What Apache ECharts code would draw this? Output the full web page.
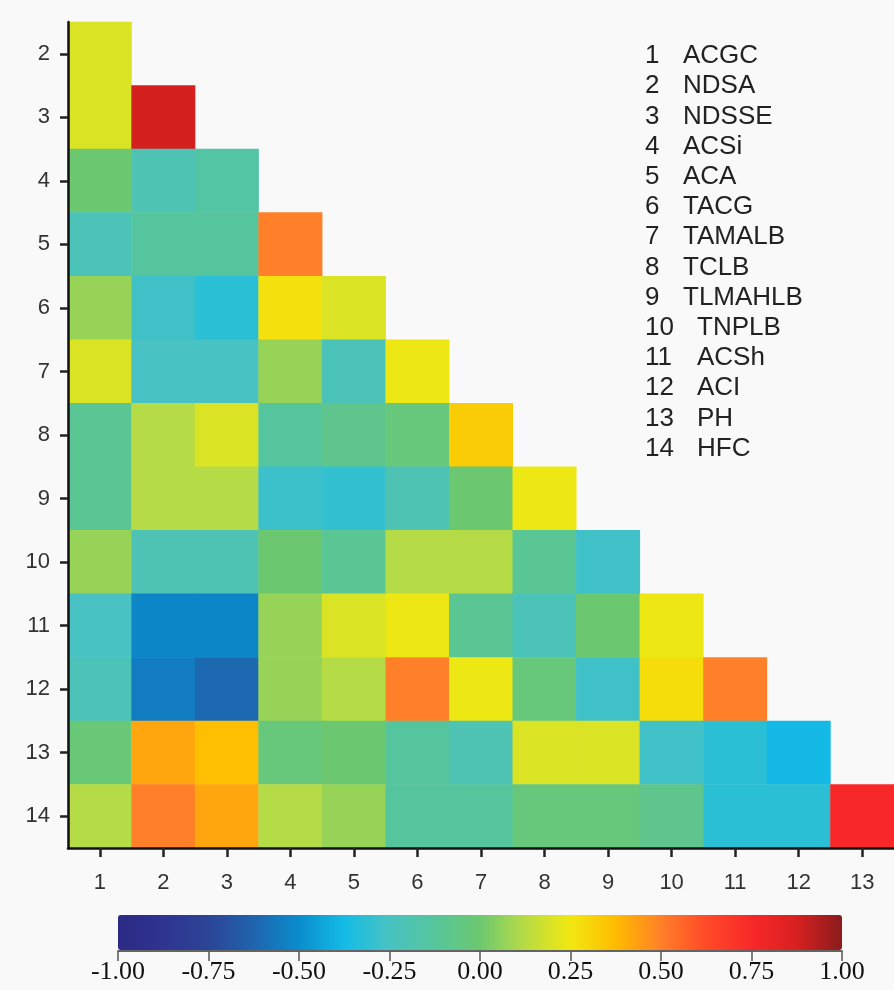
<!DOCTYPE html>
<html>
<head>
<meta charset="utf-8">
<script src="https://cdn.jsdelivr.net/npm/echarts@6/dist/echarts.min.js"></script>
<style>
  html, body { margin: 0; padding: 0; background: #f9f9f9; }
  #chart { width: 894px; height: 990px; }
</style>
</head>
<body>
<div id="chart"></div>
<script>
// columns 1..13, rows 2..14 (lower triangle of the correlation matrix)
var colLabels = ['1','2','3','4','5','6','7','8','9','10','11','12','13'];
var rowLabels = ['2','3','4','5','6','7','8','9','10','11','12','13','14'];

// one array per row, values for columns 1..(row-1)
var row2  = [0.20];
var row3  = [0.20, 0.88];
var row4  = [0.00, -0.20, -0.15];
var row5  = [-0.22, -0.13, -0.13, 0.50];
var row6  = [0.07, -0.27, -0.32, 0.27, 0.20];
var row7  = [0.20, -0.25, -0.25, 0.07, -0.22, 0.24];
var row8  = [-0.10, 0.12, 0.20, -0.13, -0.08, -0.03, 0.33];
var row9  = [-0.10, 0.12, 0.12, -0.28, -0.30, -0.20, 0.00, 0.24];
var row10 = [0.07, -0.20, -0.20, 0.00, -0.10, 0.12, 0.12, -0.10, -0.27];
var row11 = [-0.25, -0.52, -0.52, 0.07, 0.20, 0.24, -0.10, -0.22, 0.00, 0.24];
var row12 = [-0.22, -0.55, -0.61, 0.07, 0.12, 0.50, 0.24, -0.03, -0.27, 0.28, 0.50];
var row13 = [-0.02, 0.42, 0.37, -0.03, 0.00, -0.13, -0.20, 0.20, 0.20, -0.27, -0.32, -0.38];
var row14 = [0.12, 0.50, 0.42, 0.12, 0.07, -0.13, -0.13, -0.03, -0.03, -0.08, -0.32, -0.32, 0.75];
var rows = [row2, row3, row4, row5, row6, row7, row8, row9, row10, row11, row12, row13, row14];

var varNames = ['ACGC','NDSA','NDSSE','ACSi','ACA','TACG','TAMALB','TCLB','TLMAHLB','TNPLB','ACSh','ACI','PH','HFC'];

var palette = ['#2c2a84','#2e3490','#2c4596','#1f64ae','#0a8ccc','#14bce6','#48c2c2','#56c59c',
               '#6cc870','#b8dc44','#f2e810','#ffbc00','#ff8028','#ff4a28','#f82828','#d82020','#8a1c1c'];

var cells = [];
rows.forEach(function (r, ri) {
  r.forEach(function (v, ci) {
    cells.push([ci, ri, v]);
  });
});

// variable list in the upper right
var listTexts = [];
varNames.forEach(function (n, i) {
  var y = 56 + i * 30.2;
  listTexts.push({
    type: 'text', left: 645, top: y - 13,
    style: { text: String(i + 1), font: '26px "Liberation Sans", Arial, sans-serif', fill: '#222' }
  });
  listTexts.push({
    type: 'text', left: i < 9 ? 683 : 697, top: y - 13,
    style: { text: n, font: '26px "Liberation Sans", Arial, sans-serif', fill: '#222' }
  });
});

var myChart = echarts.init(document.getElementById('chart'));
var option = {
  backgroundColor: '#f9f9f9',
  animation: false,
  grid: [
    { left: 68, top: 22, width: 826, height: 826 },
    { left: 118, top: 950, width: 724, height: 1 }
  ],
  xAxis: [
    {
      type: 'category', data: colLabels, gridIndex: 0, z: 10,
      axisLine: { show: true, lineStyle: { color: '#111', width: 2.5 } },
      axisTick: { show: true, alignWithLabel: true, length: 9, lineStyle: { color: '#222', width: 2.5 } },
      axisLabel: { show: true, color: '#333', fontSize: 22, margin: 24, fontFamily: 'Liberation Sans' },
      splitLine: { show: false }
    },
    {
      type: 'value', gridIndex: 1, min: -1, max: 1, interval: 0.25,
      axisLine: { show: true, lineStyle: { color: '#333', width: 1.5 } },
      axisTick: { show: true, length: 10, lineStyle: { color: '#555', width: 1.5 } },
      axisLabel: {
        color: '#111', fontSize: 26, margin: 8, fontFamily: 'Liberation Serif',
        formatter: function (v) { return v.toFixed(2); }
      },
      splitLine: { show: false }
    }
  ],
  yAxis: [
    {
      type: 'category', data: rowLabels, inverse: true, gridIndex: 0, z: 10,
      axisLine: { show: true, lineStyle: { color: '#111', width: 2.5 } },
      axisTick: { show: true, alignWithLabel: true, length: 8, lineStyle: { color: '#222', width: 2.5 } },
      axisLabel: { show: true, color: '#333', fontSize: 22, margin: 18, fontFamily: 'Liberation Sans' },
      splitLine: { show: false }
    },
    { type: 'value', gridIndex: 1, show: false }
  ],
  visualMap: {
    type: 'continuous', min: -1, max: 1, seriesIndex: 0,
    orient: 'horizontal', left: 118, top: 915, padding: 0,
    itemWidth: 35, itemHeight: 724,
    calculable: false, text: null, showLabel: false,
    inRange: { color: palette }
  },
  series: [{
    type: 'heatmap', xAxisIndex: 0, yAxisIndex: 0, z: 1,
    data: cells,
    itemStyle: { borderWidth: 0 },
    emphasis: { disabled: true }
  }],
  graphic: listTexts
};
myChart.setOption(option);
</script>
</body>
</html>
